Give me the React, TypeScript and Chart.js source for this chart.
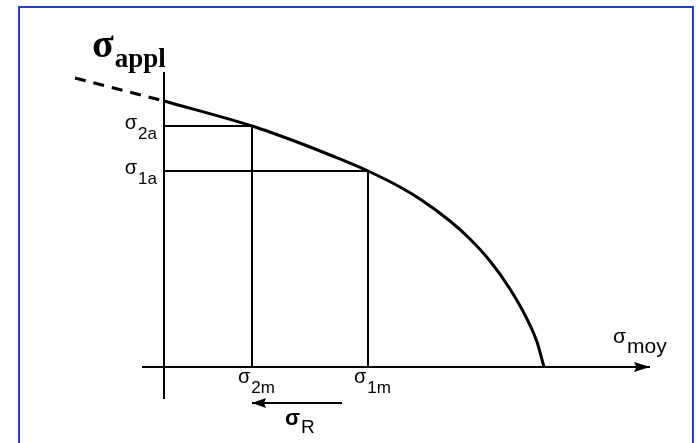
import React, { useEffect, useRef } from "react";
import { Chart, registerables } from "chart.js";

Chart.register(...registerables);

// Limiting curve: amplitude stress vs. mean stress (arbitrary stress units)
const curveMean = [0, 88, 133, 166, 204, 236, 256, 286, 306, 326, 346, 363, 373, 380];
const curveAmp = [266, 241, 225, 212, 196, 180, 168, 146, 128, 106, 78, 48, 25, 0];

// Dashed extension of the curve towards negative mean stress
const extMean = [-89, 0];
const extAmp = [289, 266];

// Two operating points: (σ2m, σ2a) and (σ1m, σ1a)
const levelMean = [88, 204];
const levelAmp = [241, 196];
const levelSubMean = ["2m", "1m"];
const levelSubAmp = ["2a", "1a"];

// Axis extents
const axisMean = [-22, 486];
const axisAmp = [-32, 295];

// σR shift arrow (from σ1m back to σ2m), drawn below the axis
const shiftMean = [178, 88];
const shiftAmp = -36;

const SANS = '"Liberation Sans", Arial, sans-serif';
const SERIF = '"Liberation Serif", "Times New Roman", serif';

function line(xs: number[], ys: number[], extra: any = {}) {
  return {
    data: xs.map((x, i) => ({ x, y: ys[i] })),
    showLine: true,
    borderColor: "#000",
    borderWidth: 2,
    pointRadius: 0,
    fill: false,
    clip: false as any,
    ...extra,
  };
}

function arrowHead(ctx: CanvasRenderingContext2D, tipX: number, tipY: number, len: number, half: number, dir: number) {
  ctx.beginPath();
  ctx.moveTo(tipX, tipY);
  ctx.lineTo(tipX - dir * len, tipY - half);
  ctx.lineTo(tipX - dir * len * 0.85, tipY);
  ctx.lineTo(tipX - dir * len, tipY + half);
  ctx.closePath();
  ctx.fill();
}

function sigma(
  ctx: CanvasRenderingContext2D,
  x: number,
  base: number,
  main: string,
  mainFont: string,
  sub: string,
  subFont: string,
  subBase: number,
  draw = true
) {
  ctx.font = mainFont;
  const w1 = ctx.measureText(main).width;
  if (draw) ctx.fillText(main, x, base);
  ctx.font = subFont;
  const w2 = ctx.measureText(sub).width;
  if (draw) ctx.fillText(sub, x + w1 + 1, subBase);
  return w1 + 1 + w2;
}

const annotate = {
  id: "annotate",
  beforeDraw(chart: any) {
    const { ctx } = chart;
    ctx.save();
    ctx.fillStyle = "#fff";
    ctx.fillRect(0, 0, chart.width, chart.height);
    ctx.strokeStyle = "#2340c0";
    ctx.lineWidth = 2;
    ctx.strokeRect(19, 7, 674, 470);
    ctx.restore();
  },
  afterDatasetsDraw(chart: any) {
    const { ctx } = chart;
    const xs = chart.scales.x;
    const ys = chart.scales.y;
    const px = (v: number) => xs.getPixelForValue(v);
    const py = (v: number) => ys.getPixelForValue(v);
    ctx.save();
    ctx.fillStyle = "#000";
    ctx.textBaseline = "alphabetic";
    ctx.textAlign = "left";

    // axis arrow and shift arrow heads
    arrowHead(ctx, px(axisMean[1]), py(0), 16, 5, 1);
    arrowHead(ctx, px(shiftMean[1]), py(shiftAmp), 14, 5, -1);

    const x0 = px(0);
    const y0 = py(0);

    // amplitude levels on the vertical axis
    levelAmp.forEach((a, i) => {
      const yy = py(a);
      const w = sigma(ctx, 0, 0, "σ", `20px ${SANS}`, levelSubAmp[i], `17px ${SANS}`, 0, false);
      sigma(ctx, x0 - 7 - w, yy + 3, "σ", `20px ${SANS}`, levelSubAmp[i], `17px ${SANS}`, yy + 13);
    });

    // mean levels below the horizontal axis
    levelMean.forEach((m, i) => {
      const xx = px(m);
      sigma(ctx, xx - 14, y0 + 16, "σ", `20px ${SANS}`, levelSubMean[i], `17px ${SANS}`, y0 + 26);
    });

    // horizontal axis title
    sigma(ctx, px(axisMean[1]) - 37, y0 - 24, "σ", `21px ${SANS}`, "moy", `21px ${SANS}`, y0 - 14);

    // vertical axis title
    const topY = py(axisAmp[1]);
    sigma(ctx, x0 - 72, topY - 15, "σ", `bold 40px ${SERIF}`, "appl", `bold 27px ${SERIF}`, topY - 5);

    // σR under the shift arrow
    const midX = (px(shiftMean[0]) + px(shiftMean[1])) / 2;
    const ay = py(shiftAmp);
    sigma(ctx, midX - 12, ay + 22, "σ", `bold 22px ${SANS}`, "R", `19px ${SANS}`, ay + 30);

    ctx.restore();
  },
};

export default function App() {
  const ref = useRef<HTMLCanvasElement>(null);

  useEffect(() => {
    if (!ref.current) return;
    const chart = new Chart(ref.current, {
      type: "scatter",
      data: {
        datasets: [
          line(axisMean, [0, 0]),
          line([0, 0], axisAmp),
          line([0, levelMean[0]], [levelAmp[0], levelAmp[0]]),
          line([levelMean[0], levelMean[0]], [levelAmp[0], 0]),
          line([0, levelMean[1]], [levelAmp[1], levelAmp[1]]),
          line([levelMean[1], levelMean[1]], [levelAmp[1], 0]),
          line(shiftMean, [shiftAmp, shiftAmp]),
          line(extMean, extAmp, { borderWidth: 3, borderDash: [11, 8] }),
          line(curveMean, curveAmp, { borderWidth: 3, cubicInterpolationMode: "monotone" }),
        ] as any,
      },
      options: {
        animation: false,
        responsive: false,
        devicePixelRatio: 1,
        layout: { padding: 0 },
        plugins: { legend: { display: false }, tooltip: { enabled: false } },
        scales: {
          x: { type: "linear", min: -164, max: 532, display: false },
          y: { type: "linear", min: -76, max: 367, display: false },
        },
      },
      plugins: [annotate],
    });
    return () => chart.destroy();
  }, []);

  return (
    <div style={{ position: "absolute", left: 0, top: 0, width: 696, height: 443, background: "#fff" }}>
      <canvas ref={ref} width={696} height={443} style={{ display: "block" }} />
    </div>
  );
}
